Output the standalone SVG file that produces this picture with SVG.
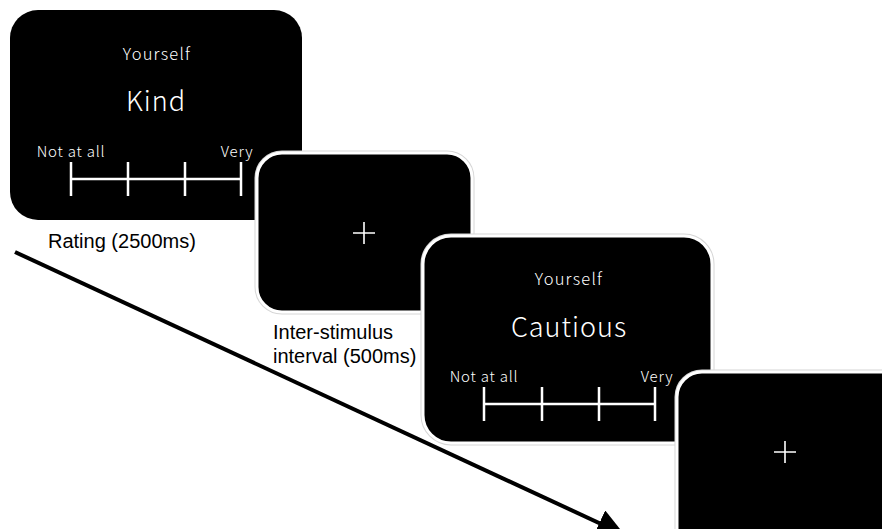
<svg xmlns="http://www.w3.org/2000/svg" width="882" height="529" viewBox="0 0 882 529">
  <style>
    .screen { fill: #000; }
    .edge-outer { fill: none; stroke: #d6d6d6; stroke-width: 5; }
    .edge-inner { fill: #000; stroke: #fff; stroke-width: 3; }
    .scr-text { fill: #fff; font-family: "Noto Sans CJK JP", "Noto Sans", sans-serif; font-weight: 300; text-anchor: middle; letter-spacing: 0.8px; }
    .small { font-size: 15px; }
    .title { font-size: 16.5px; letter-spacing: 1.2px; }
    .word { font-size: 27px; letter-spacing: 1px; }
    .scale { stroke: #fff; stroke-width: 2.5; fill: none; }
    .cross { stroke: #fff; stroke-width: 1.6; fill: none; }
    .caption { fill: #000; font-family: "Liberation Sans", Arial, sans-serif; font-size: 20px; }
    .timeline { stroke: #000; stroke-width: 4; fill: none; }
  </style>
  <defs>
    <marker id="arrowhead" markerWidth="7" markerHeight="7" refX="3.5" refY="3.5" orient="auto" markerUnits="strokeWidth">
      <path d="M0,0 L7,3.5 L0,7 Z" fill="#000"/>
    </marker>
  </defs>

  <rect width="882" height="529" fill="#fff"/>

  <!-- connectors: time axis -->
  <g id="connectors">
    <line class="timeline" x1="15" y1="252" x2="612" y2="529" marker-end="url(#arrowhead)"/>
  </g>

  <!-- rating screen 1 -->
  <g id="rating1">
    <rect class="screen" x="10" y="10" width="292" height="210" rx="28" ry="28"/>
    <text class="scr-text title" x="157" y="60">Yourself</text>
    <text class="scr-text word" x="156" y="111">Kind</text>
    <text class="scr-text small" x="71" y="157">Not at all</text>
    <text class="scr-text small" x="237" y="157">Very</text>
    <path class="scale" d="M71,179 H241 M71,162 V196 M128,162 V196 M185,162 V196 M241,162 V196"/>
  </g>

  <g id="label-rating">
    <text class="caption" x="48" y="248">Rating (2500ms)</text>
  </g>

  <!-- fixation screen 1 -->
  <g id="fixation1">
    <rect class="edge-outer" x="257" y="153" width="215" height="159" rx="25" ry="25"/>
    <rect class="edge-inner" x="257" y="153" width="215" height="159" rx="25" ry="25"/>
    <path class="cross" d="M353,233 H375 M364,222 V244"/>
  </g>

  <g id="label-isi">
    <text class="caption" x="273" y="339">Inter-stimulus</text>
    <text class="caption" x="273" y="363">interval (500ms)</text>
  </g>

  <!-- rating screen 2 -->
  <g id="rating2">
    <rect class="edge-outer" x="423" y="236" width="289" height="207" rx="28" ry="28"/>
    <rect class="edge-inner" x="423" y="236" width="289" height="207" rx="28" ry="28"/>
    <text class="scr-text title" x="569" y="285">Yourself</text>
    <text class="scr-text word" x="569" y="337">Cautious</text>
    <text class="scr-text small" x="484" y="382">Not at all</text>
    <text class="scr-text small" x="657" y="382">Very</text>
    <path class="scale" d="M484,404 H655 M484,387 V421 M542,387 V421 M599,387 V421 M655,387 V421"/>
  </g>

  <!-- fixation screen 2 -->
  <g id="fixation2">
    <rect class="edge-outer" x="677" y="372" width="240" height="190" rx="25" ry="25"/>
    <rect class="edge-inner" x="677" y="372" width="240" height="190" rx="25" ry="25"/>
    <path class="cross" d="M774,452 H796 M785,441 V463"/>
  </g>
</svg>
